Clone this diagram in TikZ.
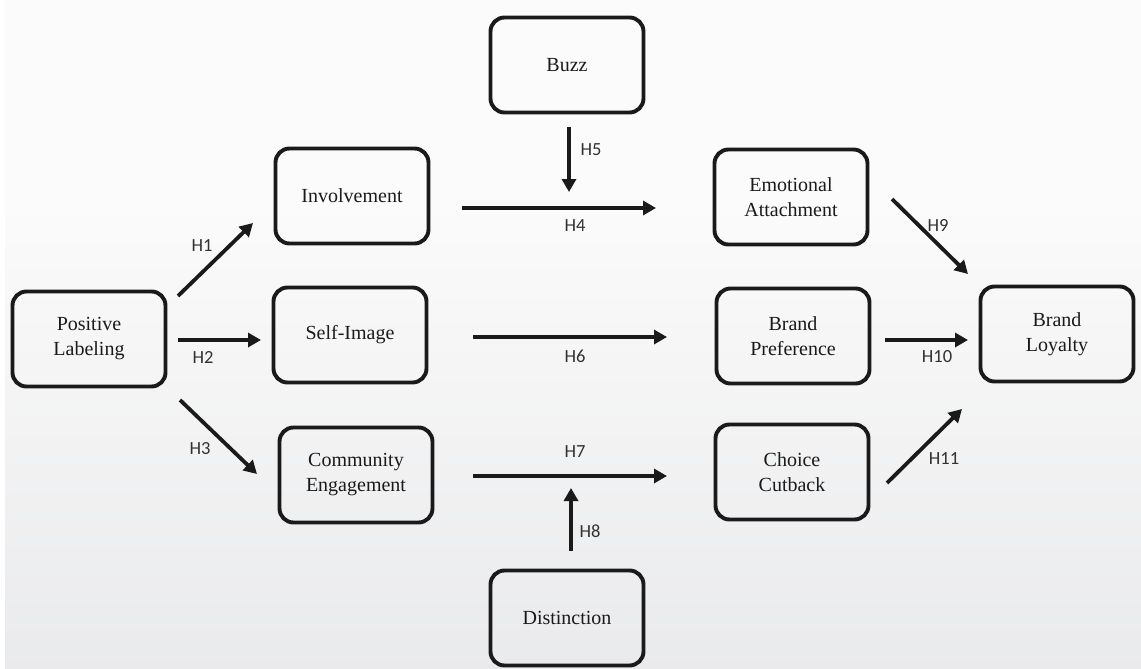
\documentclass[tikz,border=0pt]{standalone}
\usepackage{fontspec}
\setmainfont{Liberation Serif}
\newfontfamily\labfont{Carlito}
\usetikzlibrary{arrows.meta}
\definecolor{bgbot}{RGB}{221,222,225}
\definecolor{bgtop}{RGB}{251,251,251}
\definecolor{ink}{RGB}{26,26,26}
\definecolor{labcol}{RGB}{50,50,50}
\pgfdeclareverticalshading{bgshade}{100bp}{color(0bp)=(bgbot); color(60bp)=(bgtop); color(100bp)=(bgtop)}
\begin{document}
\begin{tikzpicture}[x=1pt,y=-1pt,
  box/.style={draw=ink,line width=3.9pt,rounded corners=14pt,minimum width=153pt,minimum height=95pt,
    align=center,text=ink,font=\fontsize{20}{25}\selectfont},
  hyp/.style={draw=ink,line width=3.8pt,-{Triangle[length=13pt,width=14pt]}},
  hlab/.style={text=labcol,font=\labfont\fontsize{18.5}{20}\selectfont,inner sep=0pt}]
\fill[white] (0,0) rectangle (1141,669);
\shade[shading=bgshade] (5,0) rectangle (1141,669);
\useasboundingbox (0,0) rectangle (1141,669);
% boxes
\node[box] (buzz) at (567,65) {Buzz};
\node[box] (inv) at (352,196) {Involvement};
\node[box] (emo) at (791,197) {Emotional\\Attachment};
\node[box] (pos) at (89,339) {Positive\\Labeling};
\node[box] (self) at (350,335) {Self-Image};
\node[box] (pref) at (793,336) {Brand\\Preference};
\node[box] (loy) at (1057,334) {Brand\\Loyalty};
\node[box] (comm) at (356,475) {Community\\Engagement};
\node[box] (choice) at (792,472) {Choice\\Cutback};
\node[box] (dist) at (567,618) {Distinction};
% arrow end points
\coordinate (h1s) at (178,296); \coordinate (h1e) at (253,223);
\coordinate (h2s) at (178,340); \coordinate (h2e) at (261,340);
\coordinate (h3s) at (180,400); \coordinate (h3e) at (257,474);
\coordinate (h4s) at (462,208); \coordinate (h4e) at (656,208);
\coordinate (h5s) at (569,127); \coordinate (h5e) at (569,192);
\coordinate (h6s) at (473,337); \coordinate (h6e) at (667,337);
\coordinate (h7s) at (473,476); \coordinate (h7e) at (667,476);
\coordinate (h8s) at (571,551); \coordinate (h8e) at (571,488);
\coordinate (h9s) at (892,199); \coordinate (h9e) at (968,274);
\coordinate (h10s) at (885,340); \coordinate (h10e) at (968,340);
\coordinate (h11s) at (887,483); \coordinate (h11e) at (962,409);
% arrows
\draw[hyp] (h1s) -- (h1e);
\draw[hyp] (h2s) -- (h2e);
\draw[hyp] (h3s) -- (h3e);
\draw[hyp] (h4s) -- (h4e);
\draw[hyp] (h5s) -- (h5e);
\draw[hyp] (h6s) -- (h6e);
\draw[hyp] (h7s) -- (h7e);
\draw[hyp] (h8s) -- (h8e);
\draw[hyp] (h9s) -- (h9e);
\draw[hyp] (h10s) -- (h10e);
\draw[hyp] (h11s) -- (h11e);
% labels
\node[hlab] (l1) at (202,246) {H1};
\node[hlab] (l2) at (203,357) {H2};
\node[hlab] (l3) at (200,449) {H3};
\node[hlab] (l4) at (575,226) {H4};
\node[hlab] (l5) at (591,150) {H5};
\node[hlab] (l6) at (575,356) {H6};
\node[hlab] (l7) at (575,452) {H7};
\node[hlab] (l8) at (590,531) {H8};
\node[hlab] (l9) at (938,225) {H9};
\node[hlab] (l10) at (937,357) {H10};
\node[hlab] (l11) at (944,459) {H11};
\end{tikzpicture}
\end{document}
